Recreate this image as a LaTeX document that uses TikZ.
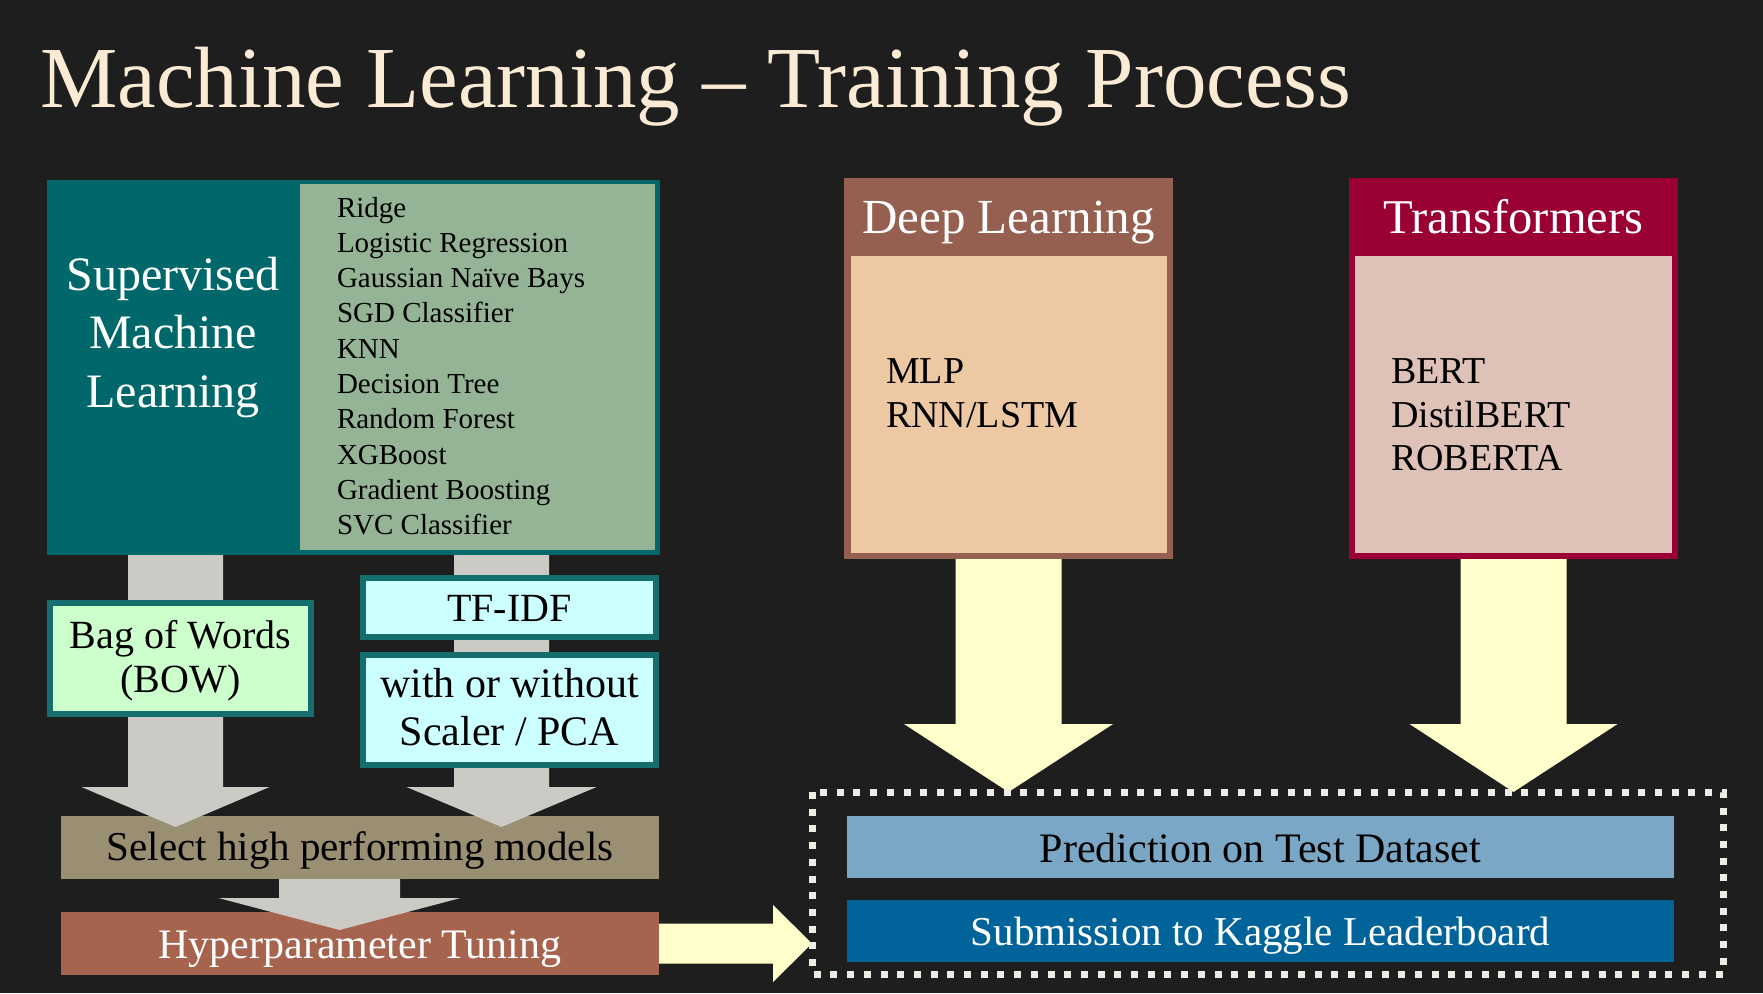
\documentclass[tikz,border=0pt]{standalone}
\usepackage{fontspec}
\setmainfont{Liberation Serif}
\usetikzlibrary{calc}

\definecolor{bg}{HTML}{1E1E1E}
\definecolor{cream}{HTML}{FCEBD4}
\definecolor{tealdark}{HTML}{00686A}
\definecolor{sage}{HTML}{94B495}
\definecolor{tealedge}{HTML}{146E6E}
\definecolor{mint}{HTML}{CCFFCC}
\definecolor{icecyan}{HTML}{CCFFFF}
\definecolor{tan}{HTML}{9A8F72}
\definecolor{rust}{HTML}{A6644F}
\definecolor{greyarrow}{HTML}{CBCAC5}
\definecolor{paleyellow}{HTML}{FFFFCC}
\definecolor{dlbrown}{HTML}{95604F}
\definecolor{peach}{HTML}{EDC9A3}
\definecolor{crimson}{HTML}{9A0036}
\definecolor{blush}{HTML}{DEC1B7}
\definecolor{skyblue}{HTML}{7BA7C6}
\definecolor{deepblue}{HTML}{00649A}
\definecolor{dashwhite}{HTML}{EDEDE6}

\newcommand\fsz[1]{\fontsize{#1}{#1}\selectfont}

% vertical block arrow: start, tip, shaft half width, head half width, head length, style
\newcommand\vblockarrow[6]{%
  \fill[#6] let \p1=(#1), \p2=(#2) in
    (\x1-#3pt,\y1) -- (\x1+#3pt,\y1) -- (\x1+#3pt,\y2+#5pt) -- (\x1+#4pt,\y2+#5pt)
    -- (\x1,\y2) -- (\x1-#4pt,\y2+#5pt) -- (\x1-#3pt,\y2+#5pt) -- cycle;}
% horizontal block arrow: start, tip, shaft half height, head half height, head length, style
\newcommand\hblockarrow[6]{%
  \fill[#6] let \p1=(#1), \p2=(#2) in
    (\x1,\y1+#3pt) -- (\x2-#5pt,\y1+#3pt) -- (\x2-#5pt,\y1+#4pt) -- (\x2,\y1)
    -- (\x2-#5pt,\y1-#4pt) -- (\x2-#5pt,\y1-#3pt) -- (\x1,\y1-#3pt) -- cycle;}

\begin{document}
\begin{tikzpicture}[x=1pt,y=-1pt,
  panel/.style={rectangle, inner sep=0pt, outer sep=0pt, anchor=north west},
  framed/.style={panel, draw=tealedge, line width=6pt},
  txt/.style={anchor=base, inner sep=0pt, outer sep=0pt},
  item/.style={anchor=base west, inner sep=0pt, outer sep=0pt, font=\fsz{29}, text=black},
  wlabel/.style={txt, text=white},
  blabel/.style={txt, text=black}]

\useasboundingbox (0,0) rectangle (1763,993);
\fill[bg] (0,0) rectangle (1763,993);

% heading
\node[anchor=base west, inner sep=0pt, text=cream, font=\fsz{87}] (title) at (40,107)
  {Machine Learning – Training Process};

% supervised machine learning panel
\node[panel, fill=tealdark, minimum width=613, minimum height=375] (sml) at (47,180) {};
\node[panel, fill=sage, minimum width=355, minimum height=366] (smllist) at (300,184) {};
\node[wlabel, font=\fsz{48}] (sup1) at (173,290) {Supervised};
\node[wlabel, font=\fsz{48}] (sup2) at (173,348) {Machine};
\node[wlabel, font=\fsz{48}] (sup3) at (173,407) {Learning};
\foreach \name [count=\i from 0] in {Ridge,Logistic Regression,Gaussian Naïve Bays,
    SGD Classifier,KNN,Decision Tree,Random Forest,XGBoost,Gradient Boosting,SVC Classifier}
  \node[item] (m\i) at (337,{217+35.33*\i}) {\name};

% selection and tuning bars
\node[panel, fill=tan, minimum width=598, minimum height=63] (sel) at (61,816) {};
\node[blabel, font=\fsz{41}] (seltext) at (360,860) {Select high performing models};
\node[panel, fill=rust, minimum width=598, minimum height=63] (hyp) at (61,912) {};
\node[wlabel, font=\fsz{42}] (hyptext) at (360,958) {Hyperparameter Tuning};

% grey flow arrows of the classic pipeline
\coordinate (bowA) at (175.5,555);
\coordinate (bowB) at (175.5,827);
\coordinate (tfA) at (501.5,555);
\coordinate (tfB) at (501.5,827);
\coordinate (selA) at (339.5,879);
\coordinate (selB) at (339.5,930);
\vblockarrow{bowA}{bowB}{47.5}{94}{40}{greyarrow}
\vblockarrow{tfA}{tfB}{47.5}{95}{40}{greyarrow}
\vblockarrow{selA}{selB}{60.5}{121}{32}{greyarrow}

% feature extraction boxes
\node[framed, fill=mint, minimum width=261, minimum height=111] (bow) at (50,603) {};
\node[blabel, font=\fsz{40}] (bow1) at (180.5,648) {Bag of Words};
\node[blabel, font=\fsz{40}] (bow2) at (180.5,692) {(BOW)};
\node[framed, fill=icecyan, minimum width=293, minimum height=59] (tfidf) at (363,578) {};
\node[blabel, font=\fsz{40}] (tfidftext) at (509.5,621) {TF-IDF};
\node[framed, fill=icecyan, minimum width=293, minimum height=110] (scal) at (363,655) {};
\node[blabel, font=\fsz{42}] (scal1) at (509.5,697) {with or without};
\node[blabel, font=\fsz{42}] (scal2) at (509.5,745) {Scaler / PCA};

% deep learning panel
\node[panel, fill=dlbrown, minimum width=329, minimum height=381] (dl) at (844,178) {};
\node[panel, fill=peach, minimum width=316, minimum height=297] (dlbody) at (851,256) {};
\node[wlabel, font=\fsz{49}] (dlhead) at (1008.5,233) {Deep Learning};
\node[item, font=\fsz{38}] (mlp) at (886,383) {MLP};
\node[item, font=\fsz{38}] (rnn) at (886,427) {RNN/LSTM};

% transformers panel
\node[panel, fill=crimson, minimum width=329, minimum height=381] (tr) at (1349,178) {};
\node[panel, fill=blush, minimum width=317, minimum height=297] (trbody) at (1355,256) {};
\node[wlabel, font=\fsz{48.5}] (trhead) at (1513.5,233) {Transformers};
\node[item, font=\fsz{38}] (bert) at (1391,383) {BERT};
\node[item, font=\fsz{38}] (distil) at (1391,427) {DistilBERT};
\node[item, font=\fsz{38}] (roberta) at (1391,470) {ROBERTA};

% prediction and submission group
\node[rectangle, inner sep=0pt, outer sep=0pt, minimum width=911, minimum height=182] (grp) at (1267.5,883) {};
\node[panel, fill=skyblue, minimum width=827, minimum height=62] (pred) at (847,816) {};
\node[blabel, font=\fsz{42}] (predtext) at (1260.5,862) {Prediction on Test Dataset};
\node[panel, fill=deepblue, minimum width=827, minimum height=62] (sub) at (847,900) {};
\node[wlabel, font=\fsz{41}] (subtext) at (1260.5,945) {Submission to Kaggle Leaderboard};

% yellow flow arrows into the group
\vblockarrow{dl.south}{dl.south |- grp.north}{53}{104.5}{68}{paleyellow}
\vblockarrow{tr.south}{tr.south |- grp.north}{53}{104}{68}{paleyellow}
\hblockarrow{hyp.east}{hyp.east -| grp.west}{20}{38.5}{39}{paleyellow}

\draw[dashwhite, line width=7pt, dash pattern=on 7pt off 9.7pt]
  (grp.north west) rectangle (grp.south east);

\end{tikzpicture}
\end{document}
